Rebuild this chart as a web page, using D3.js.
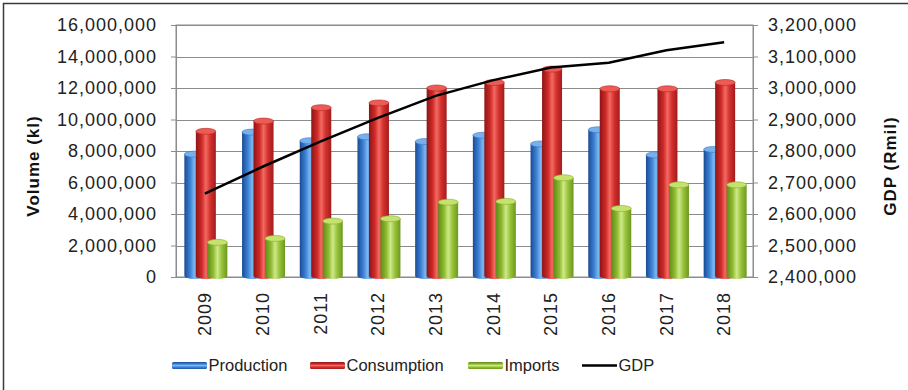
<!DOCTYPE html>
<html>
<head>
<meta charset="utf-8">
<script src="https://cdn.jsdelivr.net/npm/d3@7/dist/d3.min.js"></script>
<style>
  html, body { margin: 0; padding: 0; background: #fff; }
  svg { display: block; font-family: "Liberation Sans", Arial, sans-serif; }
</style>
</head>
<body>
<svg id="chart" width="908" height="390"></svg>
<script>
// Fuel volumes (kl) and GDP (R million), 2009-2018
const years = ["2009", "2010", "2011", "2012", "2013", "2014", "2015", "2016", "2017", "2018"];
const production  = [7800000, 9200000, 8650000, 8900000, 8600000, 9000000, 8450000, 9350000, 7750000, 8100000];
const consumption = [9250000, 9900000, 10750000, 11050000, 12000000, 12350000, 13200000, 11950000, 11950000, 12350000];
const imports     = [2200000, 2450000, 3550000, 3700000, 4750000, 4800000, 6300000, 4350000, 5850000, 5850000];
const gdp         = [2665000, 2750000, 2830000, 2905000, 2975000, 3025000, 3065000, 3080000, 3120000, 3145000];
const leftTicks  = [0, 2000000, 4000000, 6000000, 8000000, 10000000, 12000000, 14000000, 16000000];
const rightTicks = [2400000, 2500000, 2600000, 2700000, 2800000, 2900000, 3000000, 3100000, 3200000];
const seriesNames = ["Production", "Consumption", "Imports", "GDP"];

const svg = d3.select("#chart");
const plot = { left: 176, right: 753, top: 25, bottom: 277 };

const x = d3.scaleBand().domain(years).range([plot.left, plot.right]).padding(0);
const yL = d3.scaleLinear().domain([0, 16000000]).range([plot.bottom, plot.top]);
const yR = d3.scaleLinear().domain([2400000, 3200000]).range([plot.bottom, plot.top]);
const fmt = d3.format(",");

// Cylinder shading per series
const styles = {
  Production:  { stops: ["#1a4a94", "#3d83d6", "#7cb6f0", "#3f86d8", "#1f55a4"], cap: "#77b0ec", capEdge: "#3b78c4" },
  Consumption: { stops: ["#8e1515", "#cf2a28", "#f26a62", "#d3302d", "#a21c1c"], cap: "#ec5c55", capEdge: "#b82424" },
  Imports:     { stops: ["#5f8a18", "#8fbb32", "#cfe98a", "#98c23a", "#6c9820"], cap: "#c6e26e", capEdge: "#86ad2c" }
};

const defs = svg.append("defs");
Object.entries(styles).forEach(([name, s]) => {
  const g = defs.append("linearGradient").attr("id", "grad-" + name).attr("x1", 0).attr("x2", 1).attr("y1", 0).attr("y2", 0);
  [0, 0.3, 0.5, 0.72, 1].forEach((o, i) => g.append("stop").attr("offset", o).attr("stop-color", s.stops[i]));
  const gv = defs.append("linearGradient").attr("id", "lgrad-" + name).attr("x1", 0).attr("x2", 0).attr("y1", 0).attr("y2", 1);
  [0, 0.3, 0.5, 0.72, 1].forEach((o, i) => gv.append("stop").attr("offset", o).attr("stop-color", s.stops[i]));
});

// Outer frame
svg.append("rect").attr("x", 3.5).attr("y", 3.5).attr("width", 920).attr("height", 420)
  .attr("fill", "#fff").attr("stroke", "#3a3a3a").attr("stroke-width", 1.5);

// Plot area and gridlines
svg.append("rect").attr("x", plot.left).attr("y", plot.top)
  .attr("width", plot.right - plot.left).attr("height", plot.bottom - plot.top)
  .attr("fill", "#fff").attr("stroke", "#8c8c8c");

svg.append("g").selectAll("line").data(leftTicks).join("line")
  .attr("x1", plot.left).attr("x2", plot.right)
  .attr("y1", d => Math.round(yL(d)) + 0.5).attr("y2", d => Math.round(yL(d)) + 0.5)
  .attr("stroke", "#8c8c8c").attr("stroke-width", 1);

// Axes
const axisL = svg.append("g").attr("transform", `translate(${plot.left},0)`)
  .call(d3.axisLeft(yL).tickValues(leftTicks).tickFormat(fmt).tickSize(5).tickPadding(14));
const axisR = svg.append("g").attr("transform", `translate(${plot.right},0)`)
  .call(d3.axisRight(yR).tickValues(rightTicks).tickFormat(fmt).tickSize(5).tickPadding(10));
[axisL, axisR].forEach(a => {
  a.select(".domain").attr("stroke", "#8c8c8c");
  a.selectAll(".tick line").attr("stroke", "#8c8c8c");
  a.selectAll("text").attr("font-size", 18).attr("letter-spacing", "1px")
    .attr("fill", "#222").attr("font-family", "'Liberation Sans', Arial, sans-serif");
});

// Category labels, rotated
svg.append("g").selectAll("text").data(years).join("text")
  .attr("transform", d => `translate(${x(d) + x.bandwidth() / 2},292) rotate(-90)`)
  .attr("dy", "0.35em").attr("text-anchor", "end")
  .attr("font-size", 18).attr("letter-spacing", "1px").attr("fill", "#222")
  .text(d => d);

// Axis titles
svg.append("text").attr("transform", "translate(33,166) rotate(-90)")
  .attr("dy", "0.35em").attr("text-anchor", "middle")
  .attr("font-size", 17).attr("font-weight", "bold").attr("letter-spacing", "1px").attr("fill", "#111")
  .text("Volume (kl)");
svg.append("text").attr("transform", "translate(890,166) rotate(-90)")
  .attr("dy", "0.35em").attr("text-anchor", "middle")
  .attr("font-size", 17).attr("font-weight", "bold").attr("letter-spacing", "1px").attr("fill", "#111")
  .text("GDP (Rmil)");

// Cylinder bars
const barW = 20, step = 11.5, ry = 3;
const series = [
  { name: "Production", values: production, k: 0 },
  { name: "Consumption", values: consumption, k: 1 },
  { name: "Imports", values: imports, k: 2 }
];
series.forEach(s => {
  const st = styles[s.name];
  const g = svg.append("g");
  const data = years.map((yr, i) => ({ yr, v: s.values[i] }));
  const bx = d => x(d.yr) + x.bandwidth() / 2 + 1 - (barW + 2 * step) / 2 + s.k * step;
  g.selectAll("path.body").data(data).join("path").attr("class", "body")
    .attr("d", d => {
      const x0 = bx(d), x1 = x0 + barW, top = yL(d.v), bot = yL(0) - 1;
      return `M${x0},${top} L${x0},${bot} A${barW / 2},${ry} 0 0 0 ${x1},${bot} L${x1},${top} Z`;
    })
    .attr("fill", `url(#grad-${s.name})`);
  g.selectAll("ellipse").data(data).join("ellipse")
    .attr("cx", d => bx(d) + barW / 2).attr("cy", d => yL(d.v))
    .attr("rx", barW / 2).attr("ry", ry)
    .attr("fill", st.cap).attr("stroke", st.capEdge).attr("stroke-width", 0.6);
});

// GDP line on the right-hand scale
const line = d3.line().x((d, i) => x(years[i]) + x.bandwidth() / 2).y(d => yR(d));
svg.append("path").datum(gdp).attr("d", line)
  .attr("fill", "none").attr("stroke", "#000").attr("stroke-width", 2.5);

// Legend
const legend = svg.append("g");
const legendX = [172, 310, 468, 582];
seriesNames.forEach((name, i) => {
  const lx = legendX[i];
  if (name === "GDP") {
    legend.append("line").attr("x1", lx).attr("x2", lx + 35).attr("y1", 365.5).attr("y2", 365.5)
      .attr("stroke", "#000").attr("stroke-width", 2.5);
  } else {
    legend.append("rect").attr("x", lx).attr("y", 362).attr("width", 35).attr("height", 7)
      .attr("rx", 1.5).attr("fill", `url(#lgrad-${name})`);
  }
  legend.append("text").attr("x", lx + 36.5).attr("y", 371)
    .attr("font-size", 16.5).attr("fill", "#222").text(name);
});
</script>
</body>
</html>
